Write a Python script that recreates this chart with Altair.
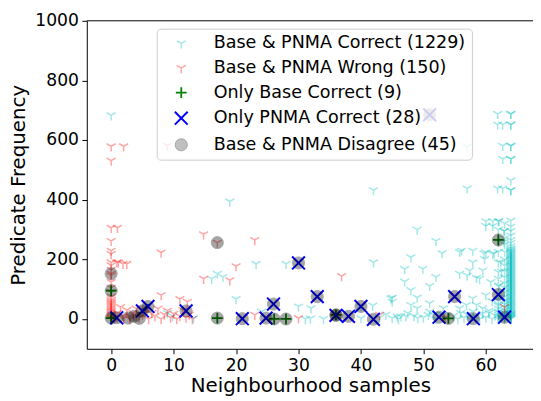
import altair as alt
import pandas as pd

categories = [
    "Base & PNMA Correct (1229)",
    "Base & PNMA Wrong (150)",
    "Only Base Correct (9)",
    "Only PNMA Correct (28)",
    "Base & PNMA Disagree (45)",
]

# ---- Base & PNMA Correct (cyan) ----
cyan_scatter = [
    (0, 683), (9, 20), (9.8, 10), (13.2, 3), (16.1, 135), (17, 152), (17.9, 141),
    (19, 394), (20, 67), (23.2, 185), (24.1, 25), (28, 185), (30, 42), (32, 36),
    (31.1, 0), (31.9, 2), (34, 0), (40, 42), (41.9, 45), (42, 190), (42, 432),
    (44.8, 69), (46.4, 9), (47.2, 9), (48, 47), (40, 3), (45, 72), (45, 58), (45, 3),
    (45.8, 9), (47, 168), (47, 126), (48, 207), (48, 97), (49, 300), (49, 72), (49, 36),
    (49.1, 3), (49.9, 168), (50.8, 14), (51, 111), (51, 53), (51.6, 14), (52, 262),
    (52, 141), (53, 221), (53.2, 36), (55.8, 225), (55.8, 152), (55.8, 36), (56.1, 229),
    (57, 146), (57.4, 163), (57.9, 229), (57.9, 190), (58.5, 138), (59, 135), (59.7, 220),
    (61.3, 220), (57, 578), (57, 438), (60, 328), (61.1, 328), (62.1, 328), (60, 312),
    (61.1, 312), (62.9, 295), (60, 223), (61.1, 218), (59.8, 201), (62.4, 190), (59.5, 163),
    (60.8, 124), (62.1, 113), (60, 80), (57.9, 69), (58.5, 47), (56.9, 47), (59.5, 36),
    (62.9, 260), (62.5, 160), (61, 60), (62, 45), (60.5, 20), (54.8, 10), (55.5, 0),
    (56, 20), (56.5, 5), (57, 15), (57.5, 0), (58, 25), (58.5, 8), (59, 0), (59.5, 18),
    (60, 5), (60.5, 28), (61, 0), (61.5, 12), (62, 22), (62.5, 3), (63.5, 25), (53, 15),
    (52, 0), (50, 5), (51, 25), (48.5, 10), (47.5, 20), (46, 0), (44, 15), (43, 5),
    (61.9, 688), (61.9, 652), (61.9, 438), (62.7, 652), (62.7, 581), (62.7, 537), (62.7, 438),
]
cyan_col64_y = [0, 2, 4, 6, 8, 10, 12, 14, 16, 18, 20, 23, 26, 29, 32, 35, 38, 41, 44, 47,
                50, 53, 56, 59, 62, 65, 68, 71, 74, 77, 80, 83, 86, 89, 92, 95, 98, 101, 104,
                107, 110, 113, 116, 119, 122, 125, 128, 131, 134, 137, 140, 143, 146, 149, 152,
                155, 158, 161, 164, 167, 170, 173, 176, 179, 182, 185, 188, 191, 194, 197, 200,
                203, 206, 209, 212, 215, 218, 221, 224, 227, 230, 234, 238, 245, 255, 265,
                280, 295, 310, 330, 432, 432, 465, 537, 537, 581, 581, 652, 652, 688, 688]
cyan_col63_y = [0, 5, 10, 15, 20, 30, 40, 50, 60, 75, 90, 105, 120, 140, 160, 180, 200, 225,
                250, 270, 295, 320]
cyan_col62_y = [0, 8, 15, 25, 35, 50, 65, 85, 110, 135, 157, 190, 225, 260, 300, 328]

# ---- Base & PNMA Wrong (red) ----
red_col0_y = [0, 3, 6, 10, 14, 18, 22, 26, 30, 35, 40, 45, 50, 55, 60, 66, 75, 90, 105, 124,
              146, 152, 165, 180, 190, 218, 229, 262, 306, 531, 579]
red_scatter = [
    (1, 306), (0.9, 190), (1.15, 190), (1.9, 185), (2.5, 185), (2, 579), (9, 581), (1, 5),
    (1, 20), (1.5, 40), (2, 10), (2.5, 30), (3, 0), (3.5, 20), (4, 35), (4.5, 5), (5, 15),
    (5.5, 30), (6, 0), (6.5, 20), (7, 10), (7.5, 35), (8, 0), (8.5, 15), (9, 28), (9.5, 5),
    (10, 18), (10.5, 0), (11, 10), (11.5, 30), (12, 5), (12.5, 15), (13, 0), (8, 223),
    (8, 80), (11, 67), (12.2, 58), (14.8, 284), (14.8, 135), (19, 130), (20, 177), (23, 265),
    (23, 14), (30, 3), (36.9, 144), (43, 14), (53.5, 5), (63, 40), (17, 256), (3, 8),
    (4, 12), (2, 2),
]

# ---- Only Base Correct (green +) ----
green_pts = [(0, 95), (0, 3), (17, 3), (26.1, 0), (28, 0), (36, 14), (54, 2), (62, 265)]

# ---- Only PNMA Correct (blue x) ----
blue_pts = [
    (0.9, 4), (5, 27), (5.9, 42), (12, 27), (21, 1),
    (24.8, 3), (26, 50), (30, 188), (33, 75), (36, 12), (38, 9), (40, 42), (42, -1),
    (51, 685), (52.5, 6), (55, 75), (58, 1), (62, 82), (63, 6),
]

# ---- Disagree (gray circles) extra positions ----
gray_extra = [(0, 152), (17, 256), (2.7, 3), (3.7, 9), (4.5, 2)]

x_ticks = [0, 10, 20, 30, 40, 50, 60]
y_ticks = [0, 200, 400, 600, 800, 1000]

cyan_all = (cyan_scatter + [(64, v) for v in cyan_col64_y] + [(63, v) for v in cyan_col63_y]
            + [(62, v) for v in cyan_col62_y])
red_all = [(0, v) for v in red_col0_y] + red_scatter
gray_all = green_pts + blue_pts + gray_extra

rows = []
for cat, pts in zip(categories, [cyan_all, red_all, green_pts, blue_pts, gray_all]):
    for px, py in pts:
        rows.append({"cat": cat, "x": px, "y": py})
df = pd.DataFrame(rows)

TRI = "M0,0L0,1M0,0L-0.866,-0.5M0,0L0.866,-0.5"
PLUS = "M-1,0L1,0M0,-1L0,1"
XMARK = "M-1,-1L1,1M-1,1L1,-1"

W, H = 453, 333
FONT = "DejaVu Sans"

xscale = alt.Scale(domain=[-3.9, 67.55], nice=False, zero=False)
yscale = alt.Scale(domain=[-100, 1000], nice=False, zero=False)
y_axis = alt.Axis(values=y_ticks, format="d", title="Predicate Frequency",
                  titleX=-69.5, titleY=H / 2, titleAngle=270, titleAlign="center",
                  titleBaseline="middle")

legend = alt.Legend(
    title=None, orient="none", legendX=71, legendY=8, padding=6,
    fillColor="rgba(255,255,255,0.8)", strokeColor="#cccccc", cornerRadius=4,
    labelFont=FONT, labelFontSize=17.8, labelColor="black", labelLimit=400,
    rowPadding=6, symbolOffset=10, labelOffset=24,
)

points = alt.Chart(df).mark_point(filled=False).encode(
    x=alt.X("x:Q", scale=xscale,
            axis=alt.Axis(values=x_ticks, title="Neighbourhood samples",
                          titleX=227, titleY=43, titleBaseline="alphabetic")),
    y=alt.Y("y:Q", scale=yscale, axis=y_axis),
    shape=alt.Shape("cat:N", scale=alt.Scale(domain=categories,
                                             range=[TRI, TRI, PLUS, XMARK, "circle"]),
                    legend=legend),
    stroke=alt.Stroke("cat:N", scale=alt.Scale(domain=categories,
                                               range=["#00bfbf", "#ff0000", "#008000",
                                                      "#0000ff", "#000000"]),
                      legend=legend),
    fill=alt.Fill("cat:N", scale=alt.Scale(domain=categories,
                                           range=["transparent", "transparent", "transparent",
                                                  "transparent", "#000000"]),
                  legend=legend),
    opacity=alt.Opacity("cat:N", scale=alt.Scale(type="ordinal", domain=categories,
                                                 range=[0.35, 0.35, 1, 1, 0.35]),
                        legend=legend),
    size=alt.Size("cat:N", scale=alt.Scale(type="ordinal", domain=categories,
                                           range=[110, 110, 121, 169, 150]),
                  legend=legend),
    strokeWidth=alt.StrokeWidth("cat:N", scale=alt.Scale(type="ordinal", domain=categories,
                                                         range=[1.5, 1.5, 1.8, 2, 1]),
                                legend=legend),
)

top_spine = alt.Chart(pd.DataFrame({"y": [1000]})).mark_rule(
    color="black", strokeWidth=1
).encode(y=alt.Y("y:Q", scale=yscale, axis=y_axis), x=alt.value(0), x2=alt.value(W))

chart = alt.layer(points, top_spine).properties(
    width=W, height=H,
    background="white",
    autosize=alt.AutoSizeParams(type="none"),
    padding={"left": 80, "top": 10, "right": 0, "bottom": 50},
).configure_view(stroke=None).configure_axis(
    grid=False, domainColor="black", domainWidth=1, tickColor="black", tickSize=5,
    tickWidth=1, labelFont=FONT, labelFontSize=17.4, labelColor="black", labelPadding=3.5,
    titleFont=FONT, titleFontSize=20.1, titleFontWeight="normal", titleColor="black",
)

chart.save("out.html", embed_options={"renderer": "svg", "actions": False})
